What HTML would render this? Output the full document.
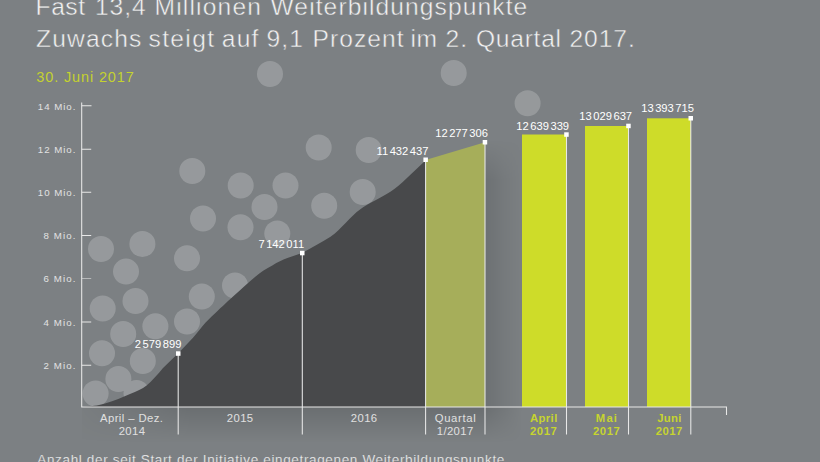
<!DOCTYPE html>
<html lang="de">
<head>
<meta charset="utf-8">
<title>Weiterbildungspunkte</title>
<style>
html,body{margin:0;padding:0;background:#7c8083;overflow:hidden;}
svg{display:block;}
text{font-family:"Liberation Sans",sans-serif;}
.t{font-size:24.6px;fill:#f2f2f2;stroke:#7c8083;stroke-width:0.45px;}
.d{font-size:14.5px;fill:#c4d22f;}
.ax{font-size:9.7px;fill:#e2e2e2;}
.v{font-size:11.2px;fill:#ffffff;}
.x{font-size:11.3px;fill:#e0e0e0;text-anchor:middle;}
.xb{font-size:11.3px;fill:#c6d42f;font-weight:bold;text-anchor:middle;}
.c{font-size:13.5px;fill:#efefef;stroke:#7c8083;stroke-width:0.2px;}
</style>
</head>
<body>
<svg width="820" height="462" viewBox="0 0 820 462">
<defs>
<linearGradient id="sh" x1="0" y1="0" x2="0" y2="1">
<stop offset="0" stop-color="#000" stop-opacity="0.14"/>
<stop offset="1" stop-color="#000" stop-opacity="0"/>
</linearGradient>
<linearGradient id="sh2" x1="0" y1="0" x2="1" y2="0">
<stop offset="0" stop-color="#000" stop-opacity="0.12"/>
<stop offset="0.5" stop-color="#000" stop-opacity="0.05"/>
<stop offset="1" stop-color="#000" stop-opacity="0"/>
</linearGradient>
<linearGradient id="fv" gradientUnits="userSpaceOnUse" x1="0" y1="140" x2="0" y2="180">
<stop offset="0" stop-color="#000"/>
<stop offset="1" stop-color="#fff"/>
</linearGradient>
<linearGradient id="fh" gradientUnits="userSpaceOnUse" x1="82" y1="0" x2="522" y2="0">
<stop offset="0" stop-color="#222"/>
<stop offset="0.25" stop-color="#fff"/>
<stop offset="0.916" stop-color="#fff"/>
<stop offset="1" stop-color="#000"/>
</linearGradient>
<mask id="mk2" maskUnits="userSpaceOnUse" x="80" y="400" width="450" height="50">
<rect x="80" y="400" width="450" height="50" fill="url(#fh)"/>
</mask>
<mask id="mk" maskUnits="userSpaceOnUse" x="480" y="130" width="50" height="320">
<rect x="480" y="130" width="50" height="320" fill="url(#fv)"/>
</mask>
</defs>
<rect width="820" height="462" fill="#7c8083"/>
<rect x="82" y="407" width="440" height="36" fill="url(#sh)" mask="url(#mk2)"/>
<rect x="485" y="138" width="38" height="269" fill="url(#sh2)" mask="url(#mk)"/>

<text class="t" x="35.6" y="14.5" textLength="49.4" lengthAdjust="spacing">Fast</text>
<text class="t" x="95.0" y="14.5" textLength="50.6" lengthAdjust="spacing">13,4</text>
<text class="t" x="154.5" y="14.5" textLength="106.5" lengthAdjust="spacing">Millionen</text>
<text class="t" x="270.5" y="14.5" textLength="256.8" lengthAdjust="spacing">Weiterbildungspunkte</text>
<text class="t" x="36.0" y="47.3" textLength="105.3" lengthAdjust="spacing">Zuwachs</text>
<text class="t" x="148.5" y="47.3" textLength="65.5" lengthAdjust="spacing">steigt</text>
<text class="t" x="221.8" y="47.3" textLength="36.6" lengthAdjust="spacing">auf</text>
<text class="t" x="266.5" y="47.3" textLength="36.5" lengthAdjust="spacing">9,1</text>
<text class="t" x="312.5" y="47.3" textLength="91.0" lengthAdjust="spacing">Prozent</text>
<text class="t" x="410.4" y="47.3" textLength="26.6" lengthAdjust="spacing">im</text>
<text class="t" x="445.5" y="47.3" textLength="21.5" lengthAdjust="spacing">2.</text>
<text class="t" x="476.0" y="47.3" textLength="85.0" lengthAdjust="spacing">Quartal</text>
<text class="t" x="569.5" y="47.3" textLength="65.3" lengthAdjust="spacing">2017.</text>
<text class="d" x="36.3" y="81.6" textLength="97.5" lengthAdjust="spacing">30. Juni 2017</text>

<g fill="#ffffff" opacity="0.2">
<circle cx="270" cy="74" r="13"/>
<circle cx="453.7" cy="73" r="13"/>
<circle cx="527.6" cy="103.3" r="13"/>
<circle cx="318.7" cy="147.5" r="13"/>
<circle cx="368.7" cy="150" r="13"/>
<circle cx="192.3" cy="171" r="13"/>
<circle cx="240.7" cy="185.5" r="13"/>
<circle cx="285.5" cy="185.5" r="13"/>
<circle cx="264.5" cy="207" r="13"/>
<circle cx="203" cy="218.5" r="13"/>
<circle cx="240.5" cy="227.3" r="13"/>
<circle cx="324.2" cy="205.8" r="13"/>
<circle cx="362.7" cy="192" r="13"/>
<circle cx="277.3" cy="233.5" r="13"/>
<circle cx="101" cy="249" r="13"/>
<circle cx="142.4" cy="244" r="13"/>
<circle cx="126" cy="271.6" r="13"/>
<circle cx="187" cy="258.3" r="13"/>
<circle cx="135.5" cy="301" r="13"/>
<circle cx="102.7" cy="308.5" r="13"/>
<circle cx="201.8" cy="296.5" r="13"/>
<circle cx="235" cy="285.5" r="13"/>
<circle cx="187" cy="321.5" r="13"/>
<circle cx="155.4" cy="326.2" r="13"/>
<circle cx="123.2" cy="334" r="13"/>
<circle cx="102" cy="353.3" r="13"/>
<circle cx="142.8" cy="361" r="13"/>
<circle cx="118.4" cy="379" r="13"/>
<circle cx="95.6" cy="393.5" r="13"/>
<circle cx="136.5" cy="393" r="13"/>
</g>

<!-- dark area -->
<path d="M82,407 L84,406.8 C95,406 100,405 105,403.5 C115,400.5 122,397.5 130,394 C137,391 142,389 146.6,385.4 C152,381 158,374 163,368 L178,353.5 L193,337.7 C198,332 202,326.5 205.6,322.6 L211.6,316.6 C220,308.5 226,303 233.3,296.3 C241,289.5 248,283 255,277 C261,272 266,268.5 272.3,265.4 C278,262 282,260 287.4,258 L302,253 C312,247.5 321,242.5 330.5,236.7 C336,233 341,227.5 345.6,222.9 C351,217.5 355,213 360.7,209 C364,206.7 367,204.8 370.7,202.8 C378,198.8 384,195.5 390.8,191.5 C396,188 401,183.5 405.9,178.9 L426,160 L426,407 Z" fill="#48494b"/>
<!-- Q1 -->
<path d="M425.5,160 L485,142.3 L485,407 L425.5,407 Z" fill="#a6ae5a"/>
<!-- bars -->
<rect x="522" y="134.5" width="45" height="272.5" fill="#cedc29"/>
<rect x="585" y="126" width="44" height="281" fill="#cedc29"/>
<rect x="647" y="118.3" width="44" height="288.7" fill="#cedc29"/>

<!-- axes & lines -->
<g stroke="#e8e8e8" stroke-width="1.05" fill="none">
<path d="M81.7,102.5 V407 H726.5 V415"/>
<path d="M81.7,105.8 H91.5 M81.7,149.3 H91.2 M81.7,192.3 H91.2 M81.7,235.5 H91.2 M81.7,322 H91.2 M81.7,365.2 H91.2"/>
<path d="M81.7,278.5 H91.2" stroke-opacity="0.55"/>
<path d="M178.2,353.5 V434.5 M302.3,253 V434.5 M425.6,160 V434.5 M485,142.3 V434.5 M566.5,134.5 V434.5 M628.5,126 V434.5 M690.8,118.3 V434.5"/>
</g>
<g fill="#ffffff">
<rect x="176" y="351.3" width="4.5" height="4.5"/>
<rect x="300" y="250.8" width="4.5" height="4.5"/>
<rect x="423.4" y="157.5" width="4.5" height="4.5"/>
<rect x="482.7" y="140" width="4.5" height="4.5"/>
<rect x="564.2" y="132.3" width="4.5" height="4.5"/>
<rect x="626.2" y="123.7" width="4.5" height="4.5"/>
<rect x="688.5" y="116" width="4.5" height="4.5"/>
</g>

<!-- y labels -->
<g class="ax">
<text x="37.8" y="109.5" textLength="37.6" lengthAdjust="spacing">14 Mio.</text>
<text x="37.8" y="153" textLength="37.6" lengthAdjust="spacing">12 Mio.</text>
<text x="37.8" y="196" textLength="37.6" lengthAdjust="spacing">10 Mio.</text>
<text x="43.6" y="239.2" textLength="31.8" lengthAdjust="spacing">8 Mio.</text>
<text x="43.6" y="282.4" textLength="31.8" lengthAdjust="spacing">6 Mio.</text>
<text x="43.6" y="325.7" textLength="31.8" lengthAdjust="spacing">4 Mio.</text>
<text x="43.6" y="368.9" textLength="31.8" lengthAdjust="spacing">2 Mio.</text>
</g>

<!-- value labels -->
<g class="v">
<text x="134.8" y="347.5">2<tspan dx="1.5">579</tspan><tspan dx="1.5">899</tspan></text>
<text x="258.4" y="248.3">7<tspan dx="1.5">142</tspan><tspan dx="1.5">011</tspan></text>
<text x="376.5" y="154.8">11<tspan dx="1.5">432</tspan><tspan dx="1.5">437</tspan></text>
<text x="435.2" y="136.7">12<tspan dx="1.5">277</tspan><tspan dx="1.5">306</tspan></text>
<text x="516.3" y="129.5">12<tspan dx="1.5">639</tspan><tspan dx="1.5">339</tspan></text>
<text x="579.3" y="120.2">13<tspan dx="1.5">029</tspan><tspan dx="1.5">637</tspan></text>
<text x="641.2" y="112">13<tspan dx="1.5">393</tspan><tspan dx="1.5">715</tspan></text>
</g>

<!-- x labels -->
<text class="x" x="131.5" y="422.4" textLength="63" lengthAdjust="spacing">April – Dez.</text>
<text class="x" x="131.8" y="435.4" textLength="26.3" lengthAdjust="spacing">2014</text>
<text class="x" x="240" y="422.4" textLength="26.3" lengthAdjust="spacing">2015</text>
<text class="x" x="364" y="422.4" textLength="26.3" lengthAdjust="spacing">2016</text>
<text class="x" x="455.2" y="422.4" textLength="41" lengthAdjust="spacing">Quartal</text>
<text class="x" x="455" y="435.4" textLength="36.6" lengthAdjust="spacing">1/2017</text>
<text class="xb" x="543.6" y="422.4" textLength="27.4" lengthAdjust="spacing">April</text>
<text class="xb" x="543.4" y="435.4" textLength="26.6" lengthAdjust="spacing">2017</text>
<text class="xb" x="606.4" y="422.4" textLength="21.2" lengthAdjust="spacing">Mai</text>
<text class="xb" x="606.4" y="435.4" textLength="26.6" lengthAdjust="spacing">2017</text>
<text class="xb" x="669.3" y="422.4" textLength="24" lengthAdjust="spacing">Juni</text>
<text class="xb" x="669" y="435.4" textLength="26.6" lengthAdjust="spacing">2017</text>

<text class="c" x="37.3" y="463.5" textLength="467" lengthAdjust="spacing">Anzahl der seit Start der Initiative eingetragenen Weiterbildungspunkte</text>
</svg>
</body>
</html>
